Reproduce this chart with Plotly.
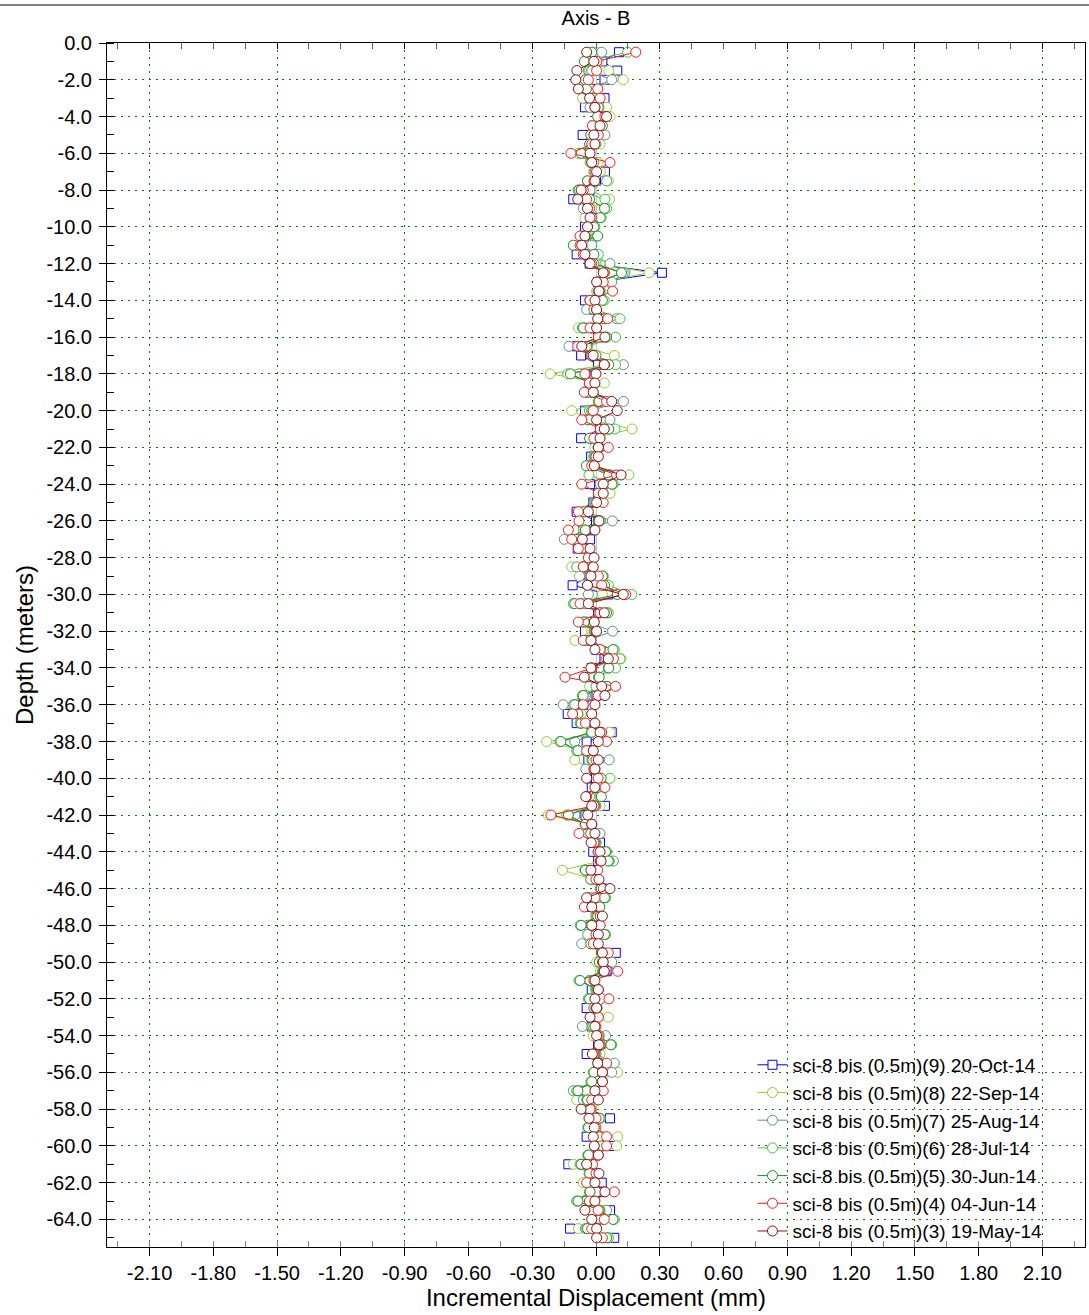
import plotly.graph_objects as go

# ---------------- data ----------------
DEPTHS = [-(i + 1) * 0.5 for i in range(130)]  # -0.5 ... -65.0 m

S9_20OCT = [
    0.108, 0.03, 0.10, 0.04, -0.01, 0.04, -0.052, 0.02, -0.01, -0.063,
    -0.02, -0.04, 0.0, 0.042, 0.0, -0.03, -0.107, -0.03, -0.02, -0.052,
    -0.05, -0.06, -0.091, -0.03, 0.31, 0.01, 0.01, -0.052, -0.01, 0.02,
    -0.04, 0.01, -0.09, -0.07, 0.01, -0.05, -0.03, -0.03, 0.02, -0.052,
    0.0, 0.02, -0.07, 0.0, -0.023, -0.02, 0.08, -0.028, 0.01, -0.013,
    -0.091, 0.0, -0.06, -0.028, -0.086, -0.02, -0.05, -0.03, -0.11, 0.058,
    -0.06, 0.01, -0.03, -0.052, -0.03, 0.0, 0.04, -0.02, -0.03, 0.0,
    -0.04, -0.06, -0.133, -0.091, 0.074, -0.044, -0.02, -0.036, -0.01, 0.0,
    -0.02, -0.03, 0.042, -0.05, -0.03, -0.02, 0.019, -0.013, 0.01, -0.03,
    0.0, 0.03, -0.02, -0.02, 0.01, -0.02, 0.0, -0.01, 0.093, 0.02,
    0.05, -0.02, -0.02, -0.01, -0.044, -0.02, -0.02, 0.0, 0.01, -0.044,
    0.01, 0.02, 0.0, -0.06, -0.04, -0.03, 0.066, -0.02, -0.044, 0.066,
    0.0, -0.13, -0.01, 0.027, 0.01, -0.03, 0.066, 0.02, -0.122, 0.086,
]
S8_22SEP = [
    0.0, 0.01, 0.06, 0.128, -0.04, -0.063, 0.05, 0.066, 0.02, 0.0,
    0.019, -0.06, 0.01, 0.02, 0.058, -0.03, 0.063, -0.02, -0.052, -0.03,
    -0.04, -0.05, -0.03, 0.02, 0.25, 0.02, 0.003, -0.02, 0.0, 0.03,
    -0.083, 0.02, -0.07, 0.086, 0.05, -0.216, 0.039, -0.02, 0.04, -0.114,
    -0.02, 0.17, -0.02, -0.005, -0.01, -0.01, 0.155, 0.02, 0.066, 0.0,
    -0.06, 0.02, -0.06, -0.09, -0.06, -0.03, -0.114, -0.078, -0.04, 0.03,
    -0.06, 0.02, -0.05, -0.02, -0.099, 0.02, 0.117, -0.02, -0.04, -0.03,
    -0.05, -0.06, -0.07, -0.07, 0.066, -0.232, -0.06, -0.10, -0.03, 0.01,
    0.0, -0.02, 0.019, -0.224, -0.03, -0.02, 0.0, 0.01, 0.02, -0.158,
    -0.01, 0.02, -0.03, -0.02, 0.0, -0.04, -0.01, -0.02, 0.03, 0.003,
    0.02, -0.03, 0.0, -0.02, -0.01, 0.058, -0.02, -0.013, 0.02, 0.019,
    0.02, 0.102, 0.01, -0.048, -0.091, -0.02, 0.02, -0.02, 0.102, 0.097,
    -0.01, -0.107, -0.02, -0.06, 0.0, -0.06, 0.03, 0.02, -0.083, 0.058,
]
S7_25AUG = [
    0.027, -0.02, -0.036, 0.074, -0.028, -0.01, -0.028, 0.03, 0.0, 0.042,
    -0.01, -0.05, -0.01, 0.0, 0.05, -0.028, -0.06, -0.06, -0.02, -0.03,
    -0.05, -0.02, -0.04, 0.066, 0.136, 0.074, 0.01, -0.03, -0.044, 0.097,
    -0.05, 0.03, -0.127, -0.02, 0.129, -0.08, -0.01, -0.04, 0.129, -0.03,
    0.066, 0.03, -0.02, 0.01, 0.0, -0.02, 0.07, 0.02, 0.02, 0.0,
    -0.05, 0.077, -0.05, -0.149, -0.06, -0.03, -0.091, -0.03, -0.04, -0.036,
    -0.05, 0.02, -0.04, 0.078, -0.04, 0.02, 0.05, 0.058, -0.013, 0.0,
    -0.05, -0.154, -0.09, -0.07, 0.02, -0.1, -0.05, 0.062, -0.048, 0.02,
    0.0, -0.03, 0.0, -0.099, -0.03, 0.019, 0.0, 0.01, 0.082, -0.05,
    -0.01, 0.02, -0.03, -0.02, 0.0, -0.04, -0.039, -0.067, 0.04, 0.074,
    0.03, -0.03, 0.0, -0.02, -0.01, 0.0, -0.064, 0.045, 0.02, 0.0,
    0.086, 0.074, 0.01, -0.107, -0.06, -0.03, 0.01, -0.02, 0.0, 0.03,
    -0.02, -0.07, -0.02, -0.03, 0.0, -0.06, 0.05, 0.02, -0.05, 0.03,
]
S6_28JUL = [
    0.149, -0.04, -0.03, -0.05, -0.05, -0.02, 0.014, 0.011, 0.024, -0.02,
    0.0, -0.083, -0.028, -0.01, -0.04, -0.085, 0.042, 0.05, 0.024, -0.005,
    0.003, -0.09, 0.011, 0.0, 0.128, 0.02, 0.02, 0.039, 0.0, 0.113,
    -0.064, 0.092, -0.04, -0.01, 0.092, -0.133, -0.02, -0.03, 0.011, -0.03,
    -0.04, 0.089, -0.028, 0.01, -0.01, -0.039, -0.033, 0.081, 0.02, -0.01,
    -0.06, 0.02, -0.052, -0.1, -0.07, -0.03, -0.06, 0.034, 0.058, 0.168,
    -0.107, 0.058, -0.06, -0.01, -0.05, 0.086, 0.113, 0.092, 0.011, 0.055,
    -0.064, -0.107, -0.09, -0.075, -0.023, -0.17, -0.091, -0.02, -0.01, 0.066,
    0.01, 0.019, -0.01, -0.138, -0.052, -0.02, -0.01, 0.05, 0.063, -0.052,
    -0.02, 0.03, 0.046, 0.014, 0.003, -0.075, 0.046, -0.02, 0.03, 0.02,
    0.04, -0.08, 0.0, -0.036, 0.0, 0.0, -0.02, 0.01, 0.074, -0.01,
    0.02, -0.013, -0.024, -0.091, -0.044, -0.03, 0.011, -0.039, 0.02, 0.02,
    -0.039, -0.075, -0.033, -0.03, -0.031, -0.091, 0.019, 0.086, -0.044, 0.058,
]
S5_30JUN = [
    -0.02, -0.055, -0.02, -0.05, -0.045, -0.013, 0.011, 0.008, 0.03, -0.025,
    -0.03, -0.07, -0.02, 0.0, -0.04, -0.08, -0.03, 0.04, 0.02, -0.01,
    0.008, -0.107, -0.01, -0.01, 0.12, 0.01, 0.015, 0.03, -0.01, 0.04,
    -0.06, 0.05, -0.045, 0.0, 0.06, -0.12, -0.025, -0.035, 0.015, -0.02,
    -0.035, 0.06, -0.03, 0.015, -0.005, -0.045, 0.06, 0.075, 0.025, -0.005,
    -0.055, 0.01, -0.05, -0.095, -0.065, -0.025, -0.055, 0.03, 0.04, 0.1,
    -0.1, 0.05, -0.055, -0.005, -0.045, 0.08, 0.06, 0.06, 0.015, 0.05,
    -0.06, -0.1, -0.085, -0.07, -0.02, -0.165, -0.085, -0.015, -0.005, 0.024,
    0.015, 0.025, -0.005, -0.13, -0.05, -0.025, -0.005, 0.045, 0.058, -0.05,
    -0.025, 0.025, 0.04, 0.018, 0.008, -0.07, 0.04, -0.025, 0.025, 0.015,
    0.035, -0.075, 0.005, -0.03, 0.005, 0.005, -0.015, 0.015, 0.07, -0.005,
    0.015, -0.01, -0.02, -0.085, -0.04, -0.025, 0.015, -0.035, 0.015, 0.025,
    -0.035, -0.07, -0.03, -0.025, -0.028, -0.085, 0.015, 0.08, -0.04, 0.05,
]
S4_04JUN = [
    0.187, 0.003, 0.003, -0.036, 0.008, 0.019, -0.005, 0.042, -0.017, 0.011,
    -0.02, -0.118, 0.066, -0.005, -0.01, -0.06, -0.044, -0.03, -0.02, -0.04,
    -0.075, -0.075, -0.06, -0.02, 0.04, 0.034, 0.078, -0.028, 0.003, 0.055,
    -0.028, 0.011, -0.086, -0.02, 0.04, -0.052, -0.031, -0.055, 0.05, -0.013,
    -0.067, 0.02, -0.01, 0.058, 0.0, -0.02, 0.097, -0.067, 0.011, 0.034,
    -0.083, -0.08, -0.13, -0.114, -0.083, -0.036, -0.06, 0.011, 0.027, 0.14,
    -0.075, 0.019, -0.083, 0.0, -0.06, 0.019, 0.082, -0.02, -0.146, 0.092,
    0.011, -0.06, -0.11, -0.05, 0.027, 0.05, -0.044, 0.0, -0.01, 0.01,
    0.042, -0.044, -0.01, -0.212, -0.02, -0.08, -0.01, 0.01, 0.02, 0.008,
    0.0, 0.034, -0.005, -0.055, 0.02, 0.019, 0.0, -0.013, 0.058, 0.03,
    0.102, -0.01, 0.011, 0.061, 0.0, 0.011, 0.0, 0.01, 0.02, -0.01,
    0.05, 0.03, 0.03, 0.034, -0.02, -0.028, 0.0, 0.0, 0.05, 0.05,
    0.01, -0.016, 0.0, -0.044, 0.086, -0.031, 0.01, 0.039, -0.02, 0.03,
]
S3_19MAY = [
    -0.044, -0.01, -0.09, -0.095, -0.083, -0.03, -0.005, 0.05, 0.019, -0.01,
    -0.005, -0.028, -0.02, 0.003, -0.005, -0.07, -0.086, -0.04, -0.028, -0.04,
    -0.052, -0.067, -0.052, -0.028, 0.034, 0.003, 0.014, -0.005, 0.003, 0.008,
    0.003, 0.042, -0.067, -0.013, 0.039, 0.0, -0.005, -0.013, 0.074, 0.1,
    0.003, 0.039, 0.019, 0.011, 0.011, -0.008, 0.118, 0.034, 0.034, 0.003,
    -0.036, 0.014, -0.005, -0.064, -0.028, -0.009, -0.013, -0.024, -0.04, 0.128,
    -0.036, 0.039, -0.008, 0.003, -0.024, -0.005, 0.058, -0.024, -0.055, 0.027,
    0.042, -0.005, -0.02, -0.005, 0.019, 0.011, -0.013, 0.011, -0.005, -0.044,
    -0.005, -0.048, -0.02, -0.039, -0.02, -0.005, -0.023, 0.019, 0.024, -0.024,
    0.014, 0.066, -0.044, -0.02, 0.03, -0.02, 0.011, 0.011, 0.03, 0.034,
    0.039, -0.005, 0.011, -0.005, 0.003, -0.028, -0.005, 0.003, 0.014, -0.017,
    0.008, 0.03, 0.03, -0.005, 0.011, -0.07, -0.033, -0.008, -0.013, -0.008,
    0.011, -0.044, 0.014, -0.005, 0.042, -0.005, -0.052, -0.02, 0.003, 0.003,
]

SERIES_NAMES = [
    "sci-8 bis (0.5m)(9) 20-Oct-14",
    "sci-8 bis (0.5m)(8) 22-Sep-14",
    "sci-8 bis (0.5m)(7) 25-Aug-14",
    "sci-8 bis (0.5m)(6) 28-Jul-14",
    "sci-8 bis (0.5m)(5) 30-Jun-14",
    "sci-8 bis (0.5m)(4) 04-Jun-14",
    "sci-8 bis (0.5m)(3) 19-May-14",
]
SERIES_VALUES = [S9_20OCT, S8_22SEP, S7_25AUG, S6_28JUL, S5_30JUN, S4_04JUN, S3_19MAY]

X_TICKS = [-2.1, -1.8, -1.5, -1.2, -0.9, -0.6, -0.3, 0.0, 0.3, 0.6, 0.9, 1.2, 1.5, 1.8, 2.1]
X_TICK_LABELS = ["-2.10", "-1.80", "-1.50", "-1.20", "-0.90", "-0.60", "-0.30", "0.00",
                 "0.30", "0.60", "0.90", "1.20", "1.50", "1.80", "2.10"]
X_GRID = [-2.1, -1.5, -0.9, -0.3, 0.3, 0.9, 1.5, 2.1]
Y_TICKS = [0, -2, -4, -6, -8, -10, -12, -14, -16, -18, -20, -22, -24, -26, -28, -30, -32,
           -34, -36, -38, -40, -42, -44, -46, -48, -50, -52, -54, -56, -58, -60, -62, -64]
Y_TICK_LABELS = ["0.0", "-2.0", "-4.0", "-6.0", "-8.0", "-10.0", "-12.0", "-14.0", "-16.0",
                 "-18.0", "-20.0", "-22.0", "-24.0", "-26.0", "-28.0", "-30.0", "-32.0",
                 "-34.0", "-36.0", "-38.0", "-40.0", "-42.0", "-44.0", "-46.0", "-48.0",
                 "-50.0", "-52.0", "-54.0", "-56.0", "-58.0", "-60.0", "-62.0", "-64.0"]

# ---------------- styles ----------------
COLORS = ["#0000ff", "#9acd32", "#5f8f8f", "#3cc83c", "#1e8c1e", "#ff1a1a", "#8b1010"]
SYMBOLS = ["square", "circle", "circle", "circle", "circle", "circle", "circle"]
X_RANGE = [-2.3, 2.3]
Y_RANGE = [-65.5, 0.0]
FONT = "Liberation Sans, Arial, sans-serif"
GRID_GREEN = "#008000"
W, H = 1089, 1315
ML, MR, MT, MB = 107, 4, 43, 68
PLOT_H = H - MT - MB

fig = go.Figure()
for name, vals, col, sym in zip(SERIES_NAMES, SERIES_VALUES, COLORS, SYMBOLS):
    fig.add_trace(go.Scatter(
        x=vals, y=DEPTHS, mode="lines+markers", name=name,
        line=dict(color=col, width=1),
        marker=dict(symbol=sym, size=10 if sym == "circle" else 9, color="white",
                    line=dict(color=col, width=1)),
    ))

# helper (empty) trace so that the overlay axes (top ticks / grid) get drawn
fig.add_trace(go.Scatter(x=[], y=[], xaxis="x2", yaxis="y2", showlegend=False,
                         hoverinfo="skip", mode="markers"))

fig.update_layout(
    width=W, height=H,
    margin=dict(l=ML, r=MR, t=MT, b=MB, autoexpand=False),
    paper_bgcolor="white", plot_bgcolor="white",
    font=dict(family=FONT, size=20, color="black"),
    title=dict(text="Axis - B", x=0.5, xref="paper", yref="container",
               y=1 - 18 / H, yanchor="middle", font=dict(size=20), automargin=False),
    showlegend=True,
    legend=dict(x=0.660, y=0.167, xanchor="left", yanchor="top",
                bgcolor="rgba(0,0,0,0)", font=dict(size=19), itemwidth=30),
    xaxis=dict(
        range=X_RANGE, tickmode="array", tickvals=X_TICKS, ticktext=X_TICK_LABELS,
        ticks="outside", ticklen=8, tickcolor="black", tickwidth=1,
        showline=True, linecolor="black", linewidth=1, mirror=True,
        showgrid=False, zeroline=True, zerolinecolor="#c8c8c8", zerolinewidth=1,
        minor=dict(tickmode="linear", tick0=-2.1, dtick=0.15, ticks="inside",
                   ticklen=6, tickcolor="#808080", showgrid=False),
        title=dict(text="Incremental Displacement (mm)", standoff=4),
        ticklabelstandoff=0, automargin=False,
    ),
    yaxis=dict(
        range=Y_RANGE, tickmode="array", tickvals=Y_TICKS, ticktext=Y_TICK_LABELS,
        ticks="outside", ticklen=7, tickcolor="black", tickwidth=1,
        showline=True, linecolor="black", linewidth=1, mirror=True,
        showgrid=True, gridcolor=GRID_GREEN, griddash="2px,5px", gridwidth=1,
        zeroline=False,
        minor=dict(tickmode="linear", tick0=0, dtick=1, ticks="inside", ticklen=7,
                   tickcolor="black", showgrid=False),
        title=dict(text="Depth (meters)", standoff=6),
        ticklabelstandoff=3, automargin=False,
    ),
    xaxis2=dict(
        range=X_RANGE, overlaying="x", side="top", anchor="y2",
        tickmode="array", tickvals=X_GRID, showticklabels=False,
        ticks="inside", ticklen=6, tickcolor="black",
        showgrid=True, gridcolor=GRID_GREEN, griddash="2px,5px", gridwidth=1,
        zeroline=False, showline=False, automargin=False,
        minor=dict(tickmode="linear", tick0=-2.1, dtick=0.15, ticks="inside",
                   ticklen=6, tickcolor="#606060", showgrid=False),
    ),
    yaxis2=dict(
        range=Y_RANGE, overlaying="y", side="left", anchor="x2",
        tickmode="array", tickvals=Y_TICKS, showticklabels=False,
        ticks="inside", ticklen=7, tickcolor="black",
        showgrid=False, zeroline=False, showline=False, automargin=False,
    ),
    shapes=[dict(type="line", xref="paper", yref="paper", x0=-0.2, x1=1.2,
                 y0=1 + 38 / PLOT_H, y1=1 + 38 / PLOT_H,
                 line=dict(color="#808080", width=2))],
)

# remove the browser's default 8px page margin so the figure sits at (0, 0)
fig.write_html("out.html",
               config={"displayModeBar": False},
               post_script="document.body.style.margin='0';document.body.style.overflow='hidden';")
